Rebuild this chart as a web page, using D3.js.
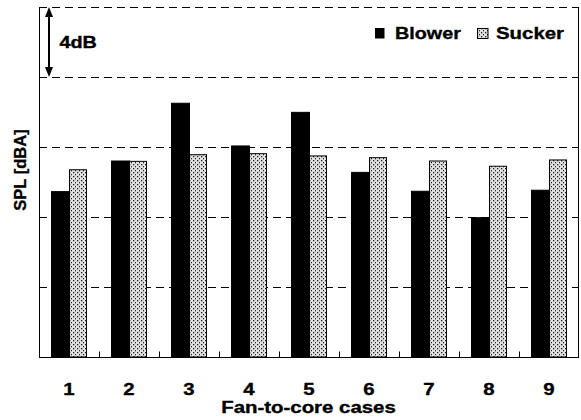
<!DOCTYPE html>
<html>
<head>
<meta charset="utf-8">
<script src="https://d3js.org/d3.v7.min.js"></script>
<style>
  html, body { margin: 0; padding: 0; background: #fff; }
  svg { display: block; }
  text { font-family: "Liberation Sans", Arial, sans-serif; font-weight: bold; fill: #000; stroke: #000; stroke-width: 0.35; }
</style>
</head>
<body>
<svg id="chart" width="581" height="420"></svg>
<script>
// ---- data ----
const categories = ["1", "2", "3", "4", "5", "6", "7", "8", "9"];
const series = ["Blower", "Sucker"];
const blower = [9.45, 11.2, 14.5, 12.06, 13.98, 10.55, 9.47, 7.96, 9.53];
const sucker = [10.7, 11.18, 11.56, 11.62, 11.49, 11.39, 11.2, 10.9, 11.26];
const gridTicks = [4, 8, 12, 16, 20];
const yDomain = [0, 20];
const scaleBarLabel = "4dB";
const xTitle = "Fan-to-core cases";
const yTitle = "SPL [dBA]";

// ---- layout ----
const svg = d3.select("#chart");
const L = 39, R = 579, T = 7, B = 357;
const SX = 1.2; // horizontal text stretch seen in the reference

const defs = svg.append("defs");
const pat = defs.append("pattern").attr("id", "dots")
  .attr("patternUnits", "userSpaceOnUse").attr("width", 4).attr("height", 4);
pat.append("rect").attr("width", 4).attr("height", 4).attr("fill", "#e0e0e0");
pat.append("rect").attr("x", 1).attr("y", 0).attr("width", 1.3).attr("height", 1.3).attr("fill", "#222");
pat.append("rect").attr("x", 3).attr("y", 2).attr("width", 1.3).attr("height", 1.3).attr("fill", "#222");

const y = d3.scaleLinear().domain(yDomain).range([B, T]);
const x0 = d3.scaleBand().domain(categories).range([L, R]).paddingInner(0).paddingOuter(0);
const x1 = d3.scaleBand().domain(series).range([0, x0.bandwidth()]).paddingInner(0).paddingOuter(0.714);
const xb = d3.scaleLinear().domain([0, categories.length]).range([L, R]);

// gridlines
svg.append("g").selectAll("line").data(gridTicks).join("line")
  .attr("x1", L).attr("x2", R)
  .attr("y1", d => Math.round(y(d)) + 0.5).attr("y2", d => Math.round(y(d)) + 0.5)
  .attr("stroke", "#000").attr("stroke-width", 1).attr("stroke-dasharray", "8,5");

// bars
const rows = categories.map((c, i) => ({ c, Blower: blower[i], Sucker: sucker[i] }));
const g = svg.append("g");
g.selectAll("rect.b").data(rows).join("rect").attr("class", "b")
  .attr("x", d => x0(d.c) + x1("Blower"))
  .attr("y", d => y(d.Blower))
  .attr("width", x1.bandwidth() + 0.5)
  .attr("height", d => B - y(d.Blower))
  .attr("fill", "#000").attr("stroke", "#000").attr("stroke-width", 1);
g.selectAll("rect.s").data(rows).join("rect").attr("class", "s")
  .attr("x", d => x0(d.c) + x1("Sucker") + 0.5)
  .attr("y", d => y(d.Sucker))
  .attr("width", x1.bandwidth() - 0.5)
  .attr("height", d => B - y(d.Sucker))
  .attr("fill", "url(#dots)").attr("stroke", "#000").attr("stroke-width", 1);

// axes
const yAxis = d3.axisLeft(y).tickValues(gridTicks.slice(0, -1)).tickSize(-6).tickFormat("");
svg.append("g").attr("transform", `translate(${L + 0.5},0)`).call(yAxis)
  .call(a => a.select(".domain").attr("d", `M0,${T}V${B}`).attr("stroke", "#000"))
  .call(a => a.selectAll(".tick line").attr("stroke", "#000"));

const bAxis = d3.axisBottom(xb).tickValues(d3.range(1, categories.length)).tickSize(-6).tickFormat("");
svg.append("g").attr("transform", `translate(0,${B + 0.5})`).call(bAxis)
  .call(a => a.select(".domain").attr("d", `M${L},0H${R}`).attr("stroke", "#000"))
  .call(a => a.selectAll(".tick line").attr("stroke", "#000"));

// right border
svg.append("line").attr("x1", R - 0.5).attr("x2", R - 0.5).attr("y1", T).attr("y2", B)
  .attr("stroke", "#000");

// category labels
svg.append("g").selectAll("text").data(categories).join("text")
  .attr("transform", d => `translate(${x0(d) + x0.bandwidth() / 2},395) scale(${SX},1)`)
  .attr("text-anchor", "middle").attr("font-size", 17).text(d => d);

// axis titles
svg.append("text").attr("transform", `translate(${(L + R) / 2 - 0.5},413) scale(${SX},1)`)
  .attr("text-anchor", "middle").attr("font-size", 17).text(xTitle);
svg.append("text").attr("transform", `translate(25.5,170) rotate(-90)`)
  .attr("text-anchor", "middle").attr("font-size", 16.5).text(yTitle);

// 4 dB scale arrow
const ax = 49, aTop = y(gridTicks[4]), aBot = y(gridTicks[3]);
svg.append("line").attr("x1", ax).attr("x2", ax).attr("y1", aTop + 6).attr("y2", aBot - 6)
  .attr("stroke", "#000").attr("stroke-width", 2);
svg.append("path").attr("d", `M${ax},${aTop}L${ax - 4},${aTop + 10}L${ax + 4},${aTop + 10}Z`).attr("fill", "#000");
svg.append("path").attr("d", `M${ax},${aBot}L${ax - 4},${aBot - 10}L${ax + 4},${aBot - 10}Z`).attr("fill", "#000");
svg.append("text").attr("transform", `translate(59.5,47.5) scale(${SX},1)`)
  .attr("font-size", 16.5).text(scaleBarLabel);

// legend
const leg = svg.append("g");
leg.append("rect").attr("x", 375).attr("y", 28).attr("width", 9.5).attr("height", 10.5).attr("fill", "#000");
leg.append("text").attr("transform", `translate(395,38.5) scale(${SX * 0.97},1)`).attr("font-size", 17).text(series[0]);
leg.append("rect").attr("x", 477.5).attr("y", 28.5).attr("width", 10.5).attr("height", 10)
  .attr("fill", "url(#dots)").attr("stroke", "#000").attr("stroke-width", 1);
leg.append("text").attr("transform", `translate(496,39) scale(${SX},1)`).attr("font-size", 17).text(series[1]);
</script>
</body>
</html>
